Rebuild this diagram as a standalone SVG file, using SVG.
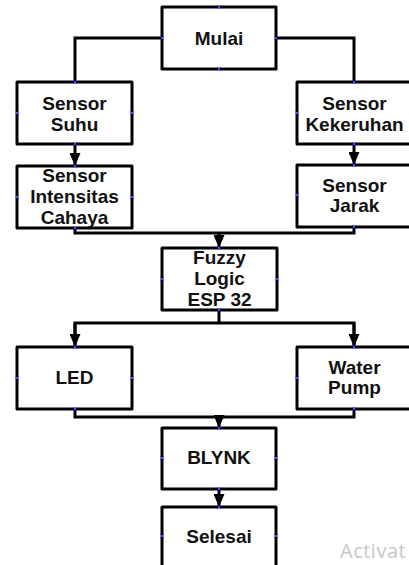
<svg xmlns="http://www.w3.org/2000/svg" xmlns:xlink="http://www.w3.org/1999/xlink" width="409" height="565" viewBox="0 0 409 565">
<style>
.box{fill:#fff;stroke:#000;stroke-width:3;stroke-linejoin:round}
.t{font-family:"Liberation Sans",Arial,sans-serif;font-weight:bold;font-size:19px;fill:#111;text-anchor:middle}
.c{fill:none;stroke:#000;stroke-width:3}
.x{fill:none;stroke:#4a4aff;stroke-width:1}
.wm{font-family:"Open Sans","Noto Sans",sans-serif;font-size:20px;letter-spacing:0.5px;fill:#c8c8c8}
</style>
<defs>
<marker id="ah" viewBox="0 0 13 11" refX="13" refY="5.5" markerUnits="userSpaceOnUse" markerWidth="13" markerHeight="11" orient="auto">
<path d="M0,0 L13,5.5 L0,11 z" fill="#000"/>
</marker>
<path id="cx" class="x" d="M-2,-2 L2,2 M-2,2 L2,-2"/>
</defs>
<rect width="409" height="565" fill="#fff"/>
<g id="connectors">
<path class="c" d="M162,38 H75 V82"/>
<path class="c" d="M276,38 H354 V82"/>
<path class="c" d="M75,144 V166" marker-end="url(#ah)"/>
<path class="c" d="M354,144 V165" marker-end="url(#ah)"/>
<path class="c" d="M75,228 V233 H354 V227"/>
<path class="c" d="M219,233 V248" marker-end="url(#ah)"/>
<path class="c" d="M219,310 V323"/>
<path class="c" d="M75,347 V323 H354 V347"/>
<path class="c" d="M75,323 V347" marker-end="url(#ah)"/>
<path class="c" d="M354,323 V347" marker-end="url(#ah)"/>
<path class="c" d="M75,409 V417 H354 V409"/>
<path class="c" d="M219,417 V428" marker-end="url(#ah)"/>
<path class="c" d="M219,489 V507" marker-end="url(#ah)"/>
</g>
<g id="mulai">
<rect class="box" x="162" y="7" width="114" height="62"/>
<text class="t" x="219" y="45">Mulai</text>
<use href="#cx" x="219" y="7"/><use href="#cx" x="219" y="69"/><use href="#cx" x="162" y="38"/><use href="#cx" x="276" y="38"/>
</g>
<g id="sensor-suhu">
<rect class="box" x="17" y="82" width="115" height="62"/>
<text class="t" x="74.5" y="110">Sensor</text>
<text class="t" x="74.5" y="131">Suhu</text>
<use href="#cx" x="75" y="82"/><use href="#cx" x="75" y="144"/><use href="#cx" x="17" y="113"/><use href="#cx" x="132" y="113"/>
</g>
<g id="sensor-kekeruhan">
<rect class="box" x="297" y="82" width="115" height="62"/>
<text class="t" x="354.5" y="110">Sensor</text>
<text class="t" x="354.5" y="131">Kekeruhan</text>
<use href="#cx" x="354" y="82"/><use href="#cx" x="354" y="144"/><use href="#cx" x="297" y="113"/>
</g>
<g id="sensor-intensitas">
<rect class="box" x="17" y="166" width="115" height="62"/>
<text class="t" x="74.5" y="182">Sensor</text>
<text class="t" x="74.5" y="203">Intensitas</text>
<text class="t" x="74.5" y="224">Cahaya</text>
<use href="#cx" x="75" y="166"/><use href="#cx" x="75" y="228"/><use href="#cx" x="17" y="197"/><use href="#cx" x="132" y="197"/>
</g>
<g id="sensor-jarak">
<rect class="box" x="297" y="165" width="115" height="62"/>
<text class="t" x="354.5" y="192">Sensor</text>
<text class="t" x="354.5" y="212">Jarak</text>
<use href="#cx" x="354" y="165"/><use href="#cx" x="354" y="227"/><use href="#cx" x="297" y="195"/>
</g>
<g id="fuzzy">
<rect class="box" x="162" y="248" width="115" height="62"/>
<text class="t" x="219.5" y="264">Fuzzy</text>
<text class="t" x="219.5" y="285">Logic</text>
<text class="t" x="219.5" y="306">ESP 32</text>
<use href="#cx" x="219" y="248"/><use href="#cx" x="219" y="310"/><use href="#cx" x="162" y="279"/><use href="#cx" x="277" y="279"/>
</g>
<g id="led">
<rect class="box" x="17" y="347" width="115" height="62"/>
<text class="t" x="74.5" y="384">LED</text>
<use href="#cx" x="75" y="347"/><use href="#cx" x="75" y="409"/><use href="#cx" x="17" y="378"/><use href="#cx" x="132" y="378"/>
</g>
<g id="water-pump">
<rect class="box" x="297" y="347" width="115" height="62"/>
<text class="t" x="354.5" y="374">Water</text>
<text class="t" x="354.5" y="394">Pump</text>
<use href="#cx" x="354" y="347"/><use href="#cx" x="354" y="409"/><use href="#cx" x="297" y="378"/>
</g>
<g id="blynk">
<rect class="box" x="162" y="428" width="114" height="61"/>
<text class="t" x="219" y="464">BLYNK</text>
<use href="#cx" x="219" y="428"/><use href="#cx" x="219" y="489"/><use href="#cx" x="162" y="458"/><use href="#cx" x="276" y="458"/>
</g>
<g id="selesai">
<rect class="box" x="162" y="507" width="114" height="62"/>
<text class="t" x="219" y="543">Selesai</text>
<use href="#cx" x="219" y="507"/><use href="#cx" x="162" y="536"/><use href="#cx" x="276" y="536"/>
</g>
<text class="wm" x="340" y="558">Activat</text>
</svg>
